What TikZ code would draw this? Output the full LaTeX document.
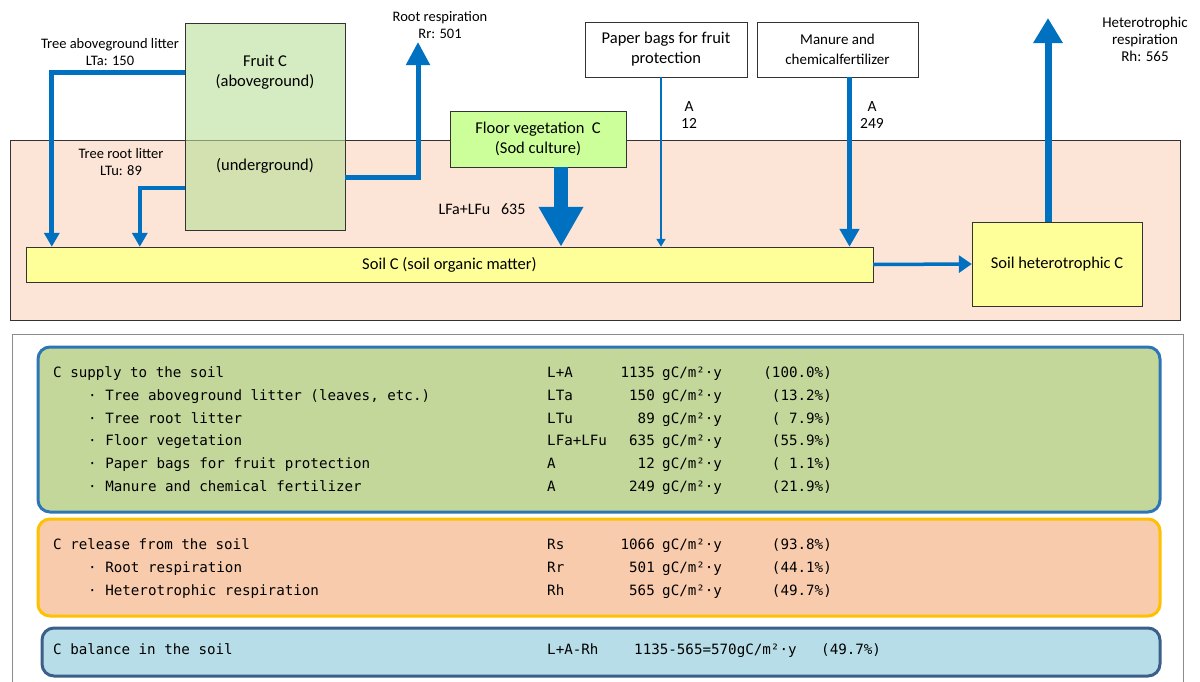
\documentclass[tikz,border=0pt]{standalone}
\usepackage{fontspec}
\setmainfont{Carlito}
\newfontfamily\tabfont{DejaVu Sans Mono}
\usetikzlibrary{calc,arrows.meta}
\definecolor{flowblue}{HTML}{0070C0}
\definecolor{soilbg}{HTML}{FCE4D6}
\definecolor{fruitgreen}{HTML}{B9DE98}
\definecolor{floorgreen}{HTML}{CCFF99}
\definecolor{soilyellow}{HTML}{FFFF99}
\definecolor{supplyfill}{HTML}{C4D79B}
\definecolor{supplyline}{HTML}{2E75B6}
\definecolor{releasefill}{HTML}{F8CBAD}
\definecolor{releaseline}{HTML}{FFC000}
\definecolor{balancefill}{HTML}{B7DEE8}
\definecolor{balanceline}{HTML}{3B5F8A}
\tikzset{
  box/.style={draw=black!80, thin, align=center, font=\fontsize{16.5}{20}\selectfont},
  lbl/.style={align=center, font=\fontsize{14.5}{16.5}\selectfont},
  flow/.style={draw=flowblue, line width=5pt, -{Triangle[width=15pt,length=14pt]}},
  panel/.style={line width=3pt, rounded corners=12pt},
  row/.style={inner sep=0pt, font=\tabfont\fontsize{14.2}{17}\selectfont},
}

\begin{document}
\begin{tikzpicture}[x=1pt,y=-1pt]
  \useasboundingbox (0,0) rectangle (1200,681);

  % soil layer
  \draw[thin, black!80, fill=soilbg] (10,140) rectangle (1180,320);

  \node[box, fill=fruitgreen, fill opacity=0.6, text opacity=1,
        minimum width=160, minimum height=207] (fruit) at (265,126.5) {};
  \node[font=\fontsize{16.5}{20}\selectfont, align=center] (fruittxt) at (265,72) {Fruit C\\(aboveground)};
  \node[font=\fontsize{16.5}{20}\selectfont] (under) at (265,166) {(underground)};

  \node[box, fill=floorgreen, minimum width=176, minimum height=56] (floor) at (538,139) {Floor vegetation~ C\\(Sod culture)};
  \node[box, fill=white, minimum width=162, minimum height=55] (paper) at (666,49.5) {Paper bags for fruit\\protection};
  \node[box, fill=white, minimum width=161, minimum height=55, font=\fontsize{15}{20}\selectfont] (manure) at (837.5,49.5) {Manure and\\chemicalfertilizer};
  \node[box, fill=soilyellow, minimum width=847, minimum height=35] (soil) at (449.5,264.5) {Soil C (soil organic matter)};
  \node[box, fill=soilyellow, minimum width=170, minimum height=84] (het) at (1057,264) {Soil heterotrophic C};

  \coordinate (rrtop) at (418,42);
  \coordinate (rhtop) at (1048,18);

  % flows into and out of the soil
  \draw[flow] ([yshift=54.5]fruit.west) -| ([xshift=26]soil.north west);
  \draw[flow, line width=4pt] ([yshift=-61.5]fruit.west) -| ([xshift=114]soil.north west);
  \draw[flow, -{Triangle[width=23pt,length=23pt]}] ([yshift=-50.5]fruit.east) -| (rrtop);
  \draw[flow, line width=14pt, -{Triangle[width=42pt,length=40pt]}] ([xshift=23]floor.south) -- ([xshift=23]floor.south |- soil.north);
  \draw[flow, line width=1.6pt, -{Triangle[width=9pt,length=8pt]}] ([xshift=-5]paper.south) -- ([xshift=-5]paper.south |- soil.north);
  \draw[flow, -{Triangle[width=19pt,length=18pt]}] ([xshift=12]manure.south) -- ([xshift=12]manure.south |- soil.north);
  \draw[flow, line width=3.5pt, -{Triangle[width=17pt,length=13pt]}] (soil.east) -- (het.west);
  \draw[flow, line width=7pt, -{Triangle[width=28pt,length=25pt]}] ([xshift=-9]het.north) -- (rhtop);

  \node[lbl] (ltalbl) at (110,52) {Tree aboveground litter\\LTa: 150};
  \node[lbl] (ltulbl) at (121,162) {Tree root litter\\LTu: 89};
  \node[lbl] (rrlbl) at (440,25) {Root respiration\\Rr: 501};
  \node[lbl, font=\fontsize{16}{18}\selectfont] (lflbl) at (482,209) {LFa+LFu~~~635};
  \node[lbl, font=\fontsize{15.5}{17}\selectfont] (alblp) at (689,115) {A\\12};
  \node[lbl, font=\fontsize{15.5}{17}\selectfont] (albls) at (872,115) {A\\249};
  \node[lbl, font=\fontsize{15}{17}\selectfont] (rhlbl) at (1145,39) {Heterotrophic\\respiration\\Rh: 565};

  % summary table
  \draw[thin, black!45] (12,690) -- (12,334) -- (1183,334) -- (1183,690);
  \draw[panel, draw=supplyline, fill=supplyfill] (38,347) rectangle (1160,512);
  \draw[panel, draw=releaseline, fill=releasefill] (38,519) rectangle (1160,616);
  \draw[panel, draw=balanceline, fill=balancefill] (42,628) rectangle (1160,676);

  \foreach \x/\y/\txt/\code/\num/\pct [count=\i] in {
      53/377/{C supply to the soil}/L+A/1135/(100.0\%),
      88/400/{· Tree aboveground litter (leaves, etc.)}/LTa/150/(13.2\%),
      88/423/{· Tree root litter}/LTu/89/( 7.9\%),
      88/445/{· Floor vegetation}/LFa+LFu/635/(55.9\%),
      88/468/{· Paper bags for fruit protection}/A/12/( 1.1\%),
      88/491/{· Manure and chemical fertilizer}/A/249/(21.9\%),
      53/549/{C release from the soil}/Rs/1066/(93.8\%),
      88/572/{· Root respiration}/Rr/501/(44.1\%),
      88/595/{· Heterotrophic respiration}/Rh/565/(49.7\%)}{
    \node[row, anchor=base west] (item\i) at (\x,\y) {\txt};
    \node[row, anchor=base west] (code\i) at (547,\y) {\code};
    \node[row, anchor=base east] (num\i) at (655,\y) {\num};
    \node[row, anchor=base west] (unit\i) at (662,\y) {gC/m²·y};
    \node[row, anchor=base east] (pct\i) at (832,\y) {\pct};
  }
  \node[row, anchor=base west] (baltxt) at (53,654) {C balance in the soil};
  \node[row, anchor=base west] (balcode) at (547,654) {L+A-Rh};
  \node[row, anchor=base west] (balnum) at (634,654) {1135-565=570gC/m²·y};
  \node[row, anchor=base west] (balpct) at (821,654) {(49.7\%)};
\end{tikzpicture}
\end{document}
